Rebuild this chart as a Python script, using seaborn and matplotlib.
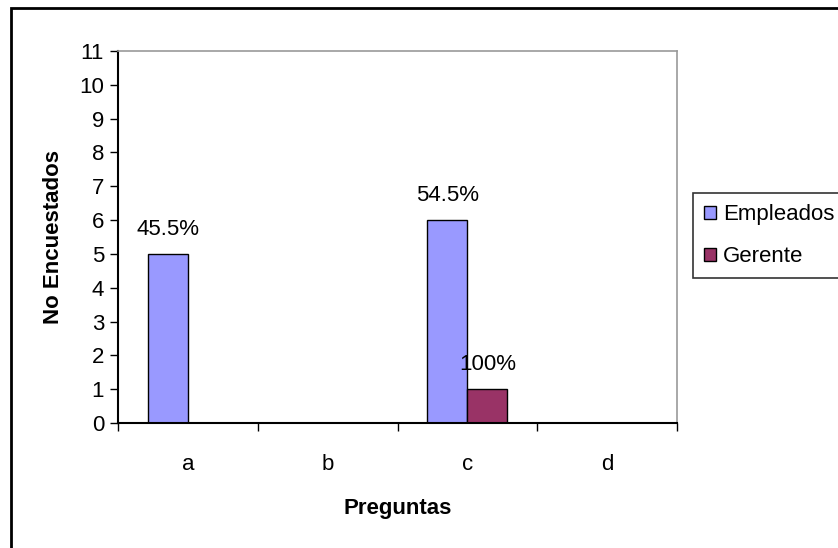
import pandas as pd
import matplotlib.pyplot as plt
import seaborn as sns
from matplotlib.patches import Rectangle

preguntas = ['a', 'b', 'c', 'd']
empleados = [5, 0, 6, 0]
gerente = [0, 0, 1, 0]
pct_empleados = ['45.5%', '', '54.5%', '']
pct_gerente = ['', '', '100%', '']

data = pd.DataFrame({
    'Preguntas': preguntas * 2,
    'Valor': empleados + gerente,
    'Serie': ['Empleados'] * 4 + ['Gerente'] * 4,
})

sns.set_style('white')
plt.rcParams['font.family'] = ['Liberation Sans', 'DejaVu Sans']
plt.rcParams['text.color'] = 'black'
plt.rcParams['axes.labelcolor'] = 'black'
plt.rcParams['xtick.color'] = 'black'
plt.rcParams['ytick.color'] = 'black'

fs = 16

fig = plt.figure(figsize=(8.38, 5.48), dpi=100)
ax = fig.add_axes([118 / 838, 1 - 423 / 548, (677 - 118) / 838, (423 - 51) / 548])

sns.barplot(data=data, x='Preguntas', y='Valor', hue='Serie', ax=ax,
            palette={'Empleados': '#9999FF', 'Gerente': '#993366'},
            width=0.572, edgecolor='black', linewidth=1, saturation=1)

# etiquetas de porcentaje sobre las barras
for cont, labels in zip(ax.containers, [pct_empleados, pct_gerente]):
    ax.bar_label(cont, labels=labels, padding=10, fontsize=fs)

ax.set_ylim(0, 11)
ax.set_yticks(range(0, 12))
ax.set_xlim(-0.5, 3.5)
ax.set_xticks(range(4))
ax.set_xticklabels(preguntas)
ax.set_xticks([-0.5, 0.5, 1.5, 2.5, 3.5], minor=True)
ax.tick_params(axis='x', which='major', length=0, pad=22, labelsize=fs)
ax.tick_params(axis='x', which='minor', length=6, width=1, direction='out', bottom=True)
ax.tick_params(axis='y', length=6, width=1, direction='out', left=True, labelsize=fs, pad=4)

ax.set_xlabel('Preguntas', fontsize=fs, fontweight='bold', labelpad=17)
ax.set_ylabel('No Encuestados', fontsize=fs, fontweight='bold', labelpad=11)

for side in ['left', 'bottom']:
    ax.spines[side].set_color('black')
    ax.spines[side].set_linewidth(1.5)
for side in ['top', 'right']:
    ax.spines[side].set_color('#999999')
    ax.spines[side].set_linewidth(1.2)

leg = ax.legend(loc='upper left', bbox_to_anchor=(693 / 838, 1 - 193 / 548),
                bbox_transform=fig.transFigure, borderaxespad=0, fontsize=fs,
                frameon=True, fancybox=False, borderpad=0.5, labelspacing=0.95,
                handlelength=0.55, handleheight=0.55, handletextpad=0.3)
leg.get_frame().set_edgecolor('black')
leg.get_frame().set_linewidth(1.2)

# marco exterior del grafico
fig.patches.append(Rectangle((11 / 838, -0.1), 2, 1 - 8 / 548 + 0.1,
                             transform=fig.transFigure, fill=False,
                             edgecolor='black', linewidth=2))

fig.savefig('out.png', dpi=100)
